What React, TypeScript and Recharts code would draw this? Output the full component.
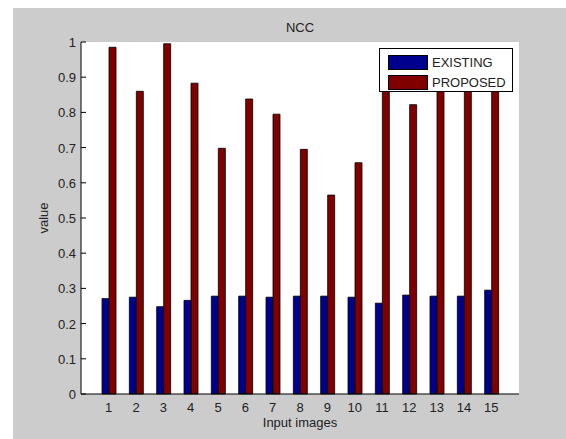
import { BarChart, Bar, XAxis, YAxis, CartesianGrid, Legend, Label } from "recharts";

const categories = ["1", "2", "3", "4", "5", "6", "7", "8", "9", "10", "11", "12", "13", "14", "15"];
const existing = [0.271, 0.275, 0.248, 0.266, 0.278, 0.278, 0.275, 0.278, 0.278, 0.275, 0.258, 0.281, 0.278, 0.278, 0.295];
const proposed = [0.985, 0.86, 0.995, 0.883, 0.698, 0.838, 0.795, 0.695, 0.565, 0.657, 0.93, 0.822, 0.94, 0.95, 0.93];
const yTicks = [0, 0.1, 0.2, 0.3, 0.4, 0.5, 0.6, 0.7, 0.8, 0.9, 1];

const data = categories.map((name, i) => ({ name, existing: existing[i], proposed: proposed[i] }));

const font = "'Liberation Sans', Arial, sans-serif";

// matlab style ticks: short marks pointing into the plot box
const BottomTick = ({ x, y, payload }: any) => (
    <g>
        <line x1={x} y1={y} x2={x} y2={y - 5} stroke="#000" />
        <text x={x} y={y + 18} textAnchor="middle" fontSize={13} fontFamily={font} fill="#222">
            {payload.value}
        </text>
    </g>
);

const TopTick = ({ x, y }: any) => <line x1={x} y1={y} x2={x} y2={y + 5} stroke="#000" />;

const LeftTick = ({ x, y, payload }: any) => (
    <g>
        <line x1={x} y1={y} x2={x + 5} y2={y} stroke="#000" />
        <text x={x - 5} y={y + 5} textAnchor="end" fontSize={13} fontFamily={font} fill="#222">
            {String(payload.value)}
        </text>
    </g>
);

const RightTick = ({ x, y }: any) => <line x1={x} y1={y} x2={x - 5} y2={y} stroke="#000" />;

const LegendBox = ({ payload }: any) => (
    <div
        style={{
            width: 134,
            height: 44,
            boxSizing: "border-box",
            border: "1px solid #000",
            background: "#fff",
            padding: "3px 0 0 8px",
            fontFamily: font,
            fontSize: 13,
            color: "#222",
        }}
    >
        {(payload || []).map((p: any) => (
            <div key={p.value} style={{ display: "flex", alignItems: "center", height: 20 }}>
                <span
                    style={{
                        display: "inline-block",
                        width: 40,
                        height: 15,
                        boxSizing: "border-box",
                        background: p.color,
                        border: "1px solid #000",
                        marginRight: 4,
                    }}
                />
                {p.value}
            </div>
        ))}
    </div>
);

export default function App() {
    return (
        <div style={{ position: "absolute", left: 13, top: 8, width: 553, height: 431, background: "#cccccc" }}>
            <div
                style={{
                    position: "absolute",
                    left: 68,
                    top: 12,
                    width: 438,
                    textAlign: "center",
                    fontFamily: font,
                    fontSize: 13,
                    lineHeight: "15px",
                    color: "#222",
                }}
            >
                NCC
            </div>
            <BarChart
                width={553}
                height={431}
                data={data}
                margin={{ top: 34, right: 47, bottom: 0, left: 0 }}
                barSize={7}
                barGap={0}
            >
                <CartesianGrid fill="#fff" horizontal={false} vertical={false} />
                <XAxis
                    dataKey="name"
                    height={45}
                    padding={{ left: 14, right: 14 }}
                    tickSize={0}
                    tickMargin={0}
                    tickLine={false}
                    tick={<BottomTick />}
                    interval={0}
                    axisLine={{ stroke: "#000" }}
                >
                    <Label value="Input images" position="insideBottom" offset={12} fontSize={13} fontFamily={font} fill="#222" />
                </XAxis>
                <XAxis
                    xAxisId="top"
                    orientation="top"
                    dataKey="name"
                    height={0}
                    padding={{ left: 14, right: 14 }}
                    tickSize={0}
                    tickMargin={0}
                    tickLine={false}
                    tick={<TopTick />}
                    interval={0}
                    axisLine={{ stroke: "#000" }}
                />
                <YAxis
                    width={68}
                    domain={[0, 1]}
                    ticks={yTicks}
                    tickSize={0}
                    tickMargin={0}
                    tickLine={false}
                    tick={<LeftTick />}
                    interval={0}
                    axisLine={{ stroke: "#000" }}
                >
                    <Label value="value" angle={-90} position="center" dx={-4} fontSize={13} fontFamily={font} fill="#222" />
                </YAxis>
                <YAxis
                    yAxisId="right"
                    orientation="right"
                    width={0}
                    domain={[0, 1]}
                    ticks={yTicks}
                    tickSize={0}
                    tickMargin={0}
                    tickLine={false}
                    tick={<RightTick />}
                    interval={0}
                    axisLine={{ stroke: "#000" }}
                />
                <Bar dataKey="existing" name="EXISTING" fill="#00008f" stroke="#000" strokeWidth={0.8} isAnimationActive={false} />
                <Bar dataKey="proposed" name="PROPOSED" fill="#800000" stroke="#000" strokeWidth={0.8} isAnimationActive={false} />
                <Legend
                    layout="vertical"
                    align="center"
                    verticalAlign="middle"
                    content={<LegendBox />}
                    wrapperStyle={{ left: 366, top: 40, width: 134, height: 44 }}
                />
            </BarChart>
        </div>
    );
}
